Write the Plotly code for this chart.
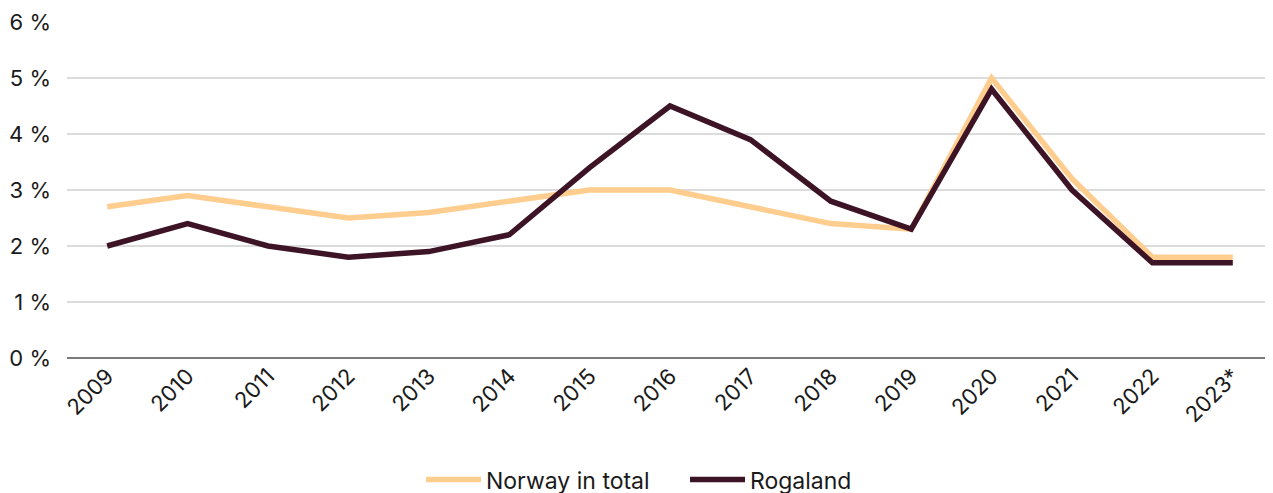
import plotly.graph_objects as go

years = ["2009", "2010", "2011", "2012", "2013", "2014", "2015", "2016",
         "2017", "2018", "2019", "2020", "2021", "2022", "2023*"]
norway = [2.7, 2.9, 2.7, 2.5, 2.6, 2.8, 3.0, 3.0, 2.7, 2.4, 2.3, 5.0, 3.2, 1.8, 1.8]
rogaland = [2.0, 2.4, 2.0, 1.8, 1.9, 2.2, 3.4, 4.5, 3.9, 2.8, 2.3, 4.8, 3.0, 1.7, 1.7]
y_ticks = [0, 1, 2, 3, 4, 5, 6]
y_labels = ["0 %", "1 %", "2 %", "3 %", "4 %", "5 %", "6 %"]

FONT = "Inter"

fig = go.Figure()
fig.add_trace(go.Scatter(x=years, y=norway, mode="lines", name="Norway in total",
                         line=dict(color="#FFCD8E", width=5.5)))
fig.add_trace(go.Scatter(x=years, y=rogaland, mode="lines", name="Rogaland",
                         line=dict(color="#3D1426", width=5.5)))

# page body has an 8px default margin, so the figure is sized to fit the window
fig.update_layout(
    width=1265, height=485,
    margin=dict(l=59, r=0, t=14, b=135),
    plot_bgcolor="white", paper_bgcolor="white",
    font=dict(family=FONT, size=21, color="#1a1a1a"),
    showlegend=True,
    legend=dict(orientation="h", xref="container", x=413 / 1265, xanchor="left",
                yref="container", y=0.072, yanchor="top",
                font=dict(size=23), itemwidth=55, entrywidth=194,
                traceorder="normal"),
    xaxis=dict(type="category", range=[-0.5, 14.5], tickangle=-45,
               showgrid=False, ticks="", tickfont=dict(size=22),
               showline=False, automargin=False),
    yaxis=dict(range=[0, 6], tickvals=y_ticks, ticktext=y_labels,
               showgrid=True, gridcolor="#dcdcdc", gridwidth=1.5,
               zeroline=True, zerolinecolor="#7a7a7a", zerolinewidth=2,
               ticks="", ticklabelstandoff=15, tickfont=dict(size=22),
               automargin=False),
)

fig.write_html("out.html")
